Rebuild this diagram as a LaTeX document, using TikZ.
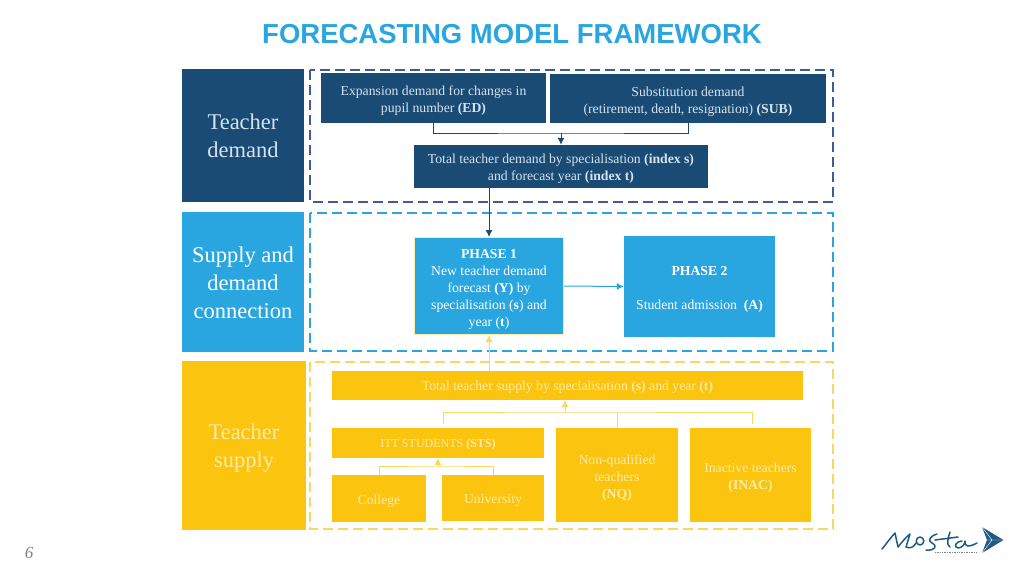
\documentclass[tikz,border=0pt]{standalone}
\usepackage{fontspec}
\usetikzlibrary{arrows.meta}
\setmainfont{Liberation Serif}
\newfontfamily\titlefont{Liberation Sans}
\definecolor{demandblue}{HTML}{1A4B75}
\definecolor{connblue}{HTML}{29A6DF}
\definecolor{supplyyellow}{HTML}{FBC40E}
\definecolor{framenavy}{HTML}{3E5C98}
\definecolor{lineyellow}{HTML}{FCD75E}
\definecolor{demandtext}{HTML}{D5E3EE}
\definecolor{supplytext}{HTML}{FDEBA8}
\definecolor{logoblue}{HTML}{1F5A85}
\newcommand{\lift}[1]{\rule{0pt}{#1pt}}
\tikzset{
  box/.style={inner sep=0pt,align=center,font=\fontsize{13.7}{17}\selectfont},
  demandbox/.style={box,fill=demandblue,text=demandtext},
  connbox/.style={box,fill=connblue,text=white},
  supplybox/.style={box,fill=supplyyellow,text=supplytext},
  sidebox/.style={inner sep=0pt,align=center,text=white,font=\fontsize{22.5}{28}\selectfont},
  dashframe/.style={line width=1.8pt,dash pattern=on 10pt off 5pt},
  demandline/.style={draw=demandblue,line width=1pt},
  connline/.style={draw=connblue,line width=1pt},
  supplyline/.style={draw=lineyellow,line width=1pt},
  tip/.style={-{Latex[length=7pt,width=7pt]}},
  logoline/.style={draw=logoblue,line width=1.5pt,line cap=round,line join=round}
}
\begin{document}
\begin{tikzpicture}[x=1pt,y=-1pt]
  \useasboundingbox (0,0) rectangle (1024,573);
  \node[text=connblue,font=\titlefont\fontsize{27.5}{32}\selectfont\bfseries] (title) at (512,34) {FORECASTING MODEL FRAMEWORK};
  \node[text=gray,font=\fontsize{17}{20}\selectfont\itshape] (page) at (29,553) {6};
  % left column
  \node[sidebox,fill=demandblue,text=demandtext,minimum width=122pt,minimum height=133pt] (sidedemand) at (243,135.5) {\lift{17}Teacher\\demand};
  \node[sidebox,fill=connblue,minimum width=122pt,minimum height=140pt] (sideconn) at (243,282) {\lift{18}Supply and\\demand\\connection};
  \node[sidebox,fill=supplyyellow,text=supplytext,minimum width=124pt,minimum height=169pt] (sidesupply) at (244,445.5) {\lift{21.5}Teacher\\supply};
  % frames
  \draw[dashframe,framenavy] (310,70) rectangle (833,202);
  \draw[dashframe,connblue] (310,213) rectangle (833,351);
  \draw[dashframe,lineyellow] (310,362) rectangle (833,529);
  % demand
  \node[demandbox,minimum width=225pt,minimum height=50pt] (ED) at (433.5,98) {\lift{15}Expansion demand for changes in\\pupil number \textbf{(ED)}};
  \node[demandbox,minimum width=276pt,minimum height=49pt] (SUB) at (688,98.5) {\lift{15}Substitution demand\\(retirement, death, resignation) \textbf{(SUB)}};
  \node[demandbox,minimum width=294pt,minimum height=43pt] (total) at (561,166.5) {\lift{14}Total teacher demand by specialisation \textbf{(index s)}\\and forecast year \textbf{(index t)}};
  % connection
  \node[connbox,draw=supplytext,line width=1pt,minimum width=149pt,minimum height=97pt] (phaseone) at (489,286) {\lift{15}\textbf{PHASE 1}\\New teacher demand\\forecast \textbf{(Y)} by\\specialisation (\textbf{s}) and\\year (\textbf{t})};
  \node[connbox,minimum width=151pt,minimum height=101pt] (phasetwo) at (699.5,286.5) {\lift{15.5}\textbf{PHASE 2}\\[17pt]Student admission\ \ \textbf{(A)}};
  % supply
  \node[supplybox,minimum width=471pt,minimum height=29pt] (supply) at (567.5,385.5) {\lift{13}Total teacher supply by specialisation \textbf{(s)} and year \textbf{(t)}};
  \node[supplybox,font=\fontsize{12}{17}\selectfont,minimum width=212pt,minimum height=30pt] (ITT) at (438,443) {\lift{12}ITT STUDENTS \textbf{(STS)}};
  \node[supplybox,minimum width=94pt,minimum height=47pt] (college) at (379,498.5) {\lift{14.5}College};
  \node[supplybox,minimum width=102pt,minimum height=46pt] (univ) at (493,498) {\lift{13.5}University};
  \node[supplybox,minimum width=122pt,minimum height=94pt] (NQ) at (617,475) {\lift{15}Non-qualified\\teachers\\\textbf{(NQ)}};
  \node[supplybox,minimum width=121pt,minimum height=94pt] (INAC) at (750.5,475) {\lift{15}Inactive teachers\\\textbf{(INAC)}};
  % connectors
  \coordinate (demandjoin) at (561,133);
  \coordinate (sumjoin) at (565,412);
  \coordinate (ittjoin) at (438,466);
  \coordinate (sumleft) at (443,424);
  \coordinate (sumright) at (752,424);
  \draw[demandline] (ED.south) |- (demandjoin) -| (SUB.south);
  \draw[demandline,tip] (demandjoin) -- (total.north);
  \draw[demandline,tip] (phaseone.north |- total.south) -- (phaseone.north);
  \draw[connline,tip] (phaseone.east) -- (phasetwo.west);
  \draw[supplyline,tip] (phaseone.south |- supply.north) -- (phaseone.south);
  \draw[supplyline] (sumleft) |- (sumjoin) -| (sumright);
  \draw[supplyline] (sumjoin -| NQ.north) -- (NQ.north);
  \draw[supplyline,tip] (sumjoin) -- (sumjoin |- supply.south);
  \draw[supplyline] (college.north) |- (ittjoin) -| (univ.north);
  \draw[supplyline,tip] (ittjoin) -- (ITT.south);
  % logo
  \fill[logoblue] (982,527) -- (1003.5,540) -- (982,553) -- (987,540) -- cycle;
  \draw[white,line width=0.4pt] (987,540) -- (992,540) -- (982,527) (992,540) -- (982,553) (992,540) -- (1003.5,540);
  \draw[logoline] (882,549) .. controls (887,543) and (891,537) .. (895,533) -- (898,547) .. controls (902,542) and (906,537) .. (910,534) -- (906,547) .. controls (910,549) and (914,547) .. (916,543);
  \draw[logoline] (920,541) ellipse (3.8pt and 4pt);
  \draw[logoline] (937,534) .. controls (930,536) and (927,541) .. (932,543) .. controls (938,546) and (935,551) .. (926,550);
  \draw[logoline] (935,540) -- (958,537) (950,532) .. controls (948,538) and (946,545) .. (950,547);
  \draw[logoline] (962,541) .. controls (956,541) and (953,547) .. (958,548) .. controls (962,548) and (965,544) .. (965,541) .. controls (964,546) and (968,548) .. (977,543);
  \draw[gray,line width=1.4pt,dash pattern=on 1pt off 0.7pt] (935,552.5) -- (977,552.5);
\end{tikzpicture}
\end{document}
